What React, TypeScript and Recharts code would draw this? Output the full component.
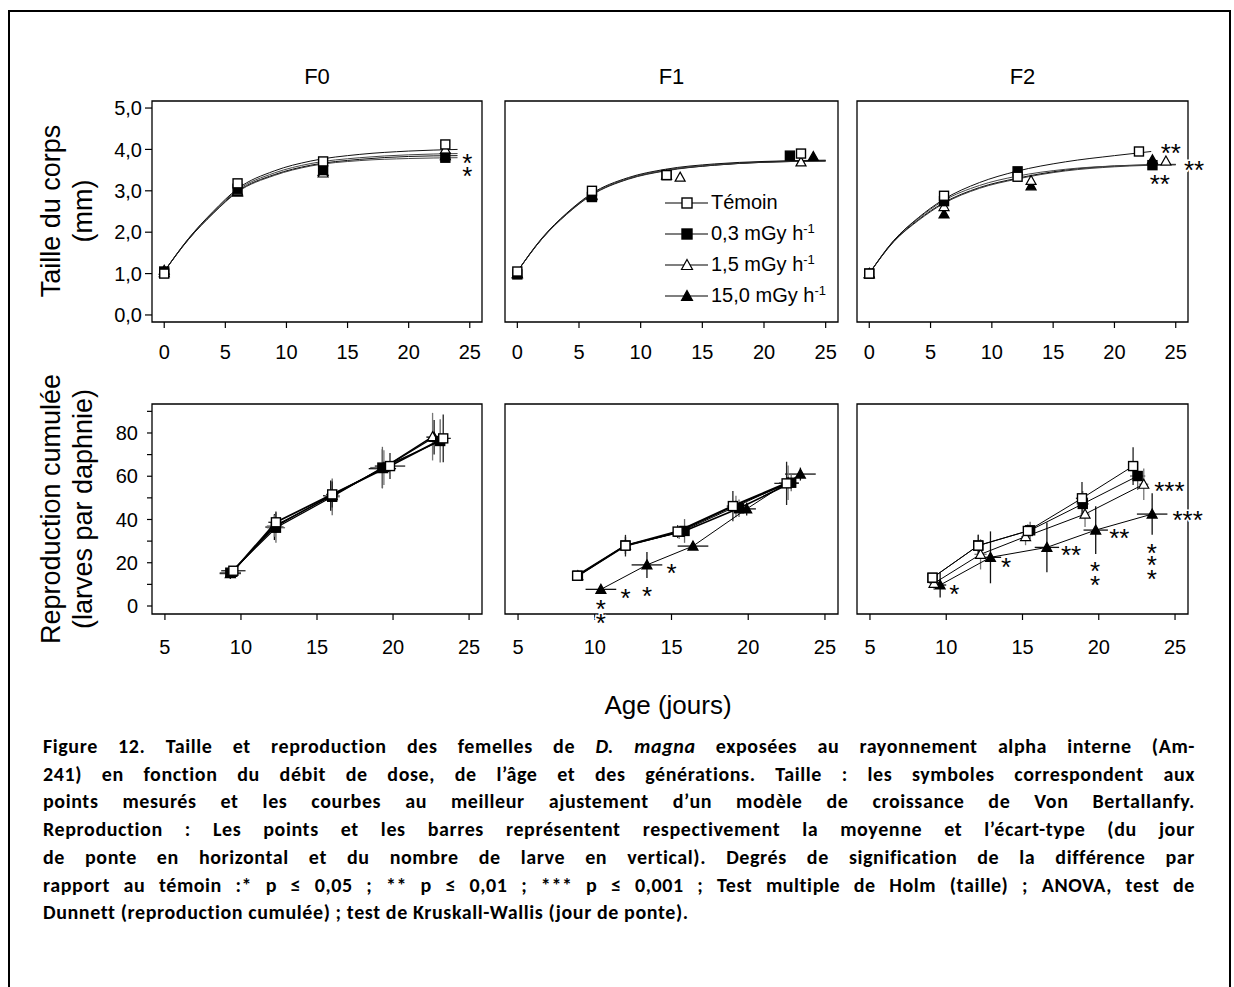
import React from "react";
import {
  ComposedChart,
  Line,
  Scatter,
  XAxis,
  YAxis,
  ErrorBar,
  ReferenceArea,
  ReferenceDot,
} from "recharts";

const FONT = '"Liberation Sans", Arial, Helvetica, sans-serif';

const generations = ["F0", "F1", "F2"];
const seriesLabels = ["Témoin", "0,3 mGy h", "1,5 mGy h", "15,0 mGy h"];
const seriesExp = ["", "-1", "-1", "-1"];

const tailleTicksX = [0, 5, 10, 15, 20, 25];
const tailleTicksY = [0, 1, 2, 3, 4, 5];
const reproTicksX = [5, 10, 15, 20, 25];
const reproTicksY = [0, 10, 20, 30, 40, 50, 60, 70, 80, 90];

// Taille du corps : points mesurés (ordre : Témoin, 0,3, 1,5, 15,0)
const tailleAgeF0 = [[0, 6, 13, 23], [0, 6, 13, 23], [0, 6, 13, 23], [0, 6, 13, 23]];
const tailleF0 = [[1.0, 3.18, 3.71, 4.12], [1.05, 3.05, 3.5, 3.8], [1.08, 3.0, 3.43, 4.0], [1.02, 2.97, 3.47, 3.85]];
const tailleAgeF1 = [[0, 6.05, 12.1, 23], [0, 6.05, 12.1, 22.1], [0, 6.05, 13.2, 23], [0, 6.05, 12.1, 24]];
const tailleF1 = [[1.05, 3.0, 3.38, 3.9], [0.98, 2.85, 3.38, 3.85], [1.0, 2.9, 3.33, 3.7], [1.0, 2.88, 3.38, 3.83]];
const tailleAgeF2 = [[0, 6.1, 12.1, 22.0], [0, 6.1, 12.1, 23.1], [0, 6.1, 13.2, 24.2], [0, 6.1, 13.2, 23.1]];
const tailleF2 = [[1.0, 2.88, 3.34, 3.95], [1.0, 2.75, 3.47, 3.62], [1.0, 2.62, 3.25, 3.72], [1.0, 2.44, 3.12, 3.75]];

// Taille du corps : courbes ajustées (Von Bertalanffy)
const courbeAgeF0 = [
  [0, 2, 4, 6, 9, 12, 16, 20, 24],
  [0, 2, 4, 6, 9, 12, 16, 20, 24],
  [0, 2, 4, 6, 9, 12, 16, 20, 24],
  [0, 2, 4, 6, 9, 12, 16, 20, 24],
];
const courbeF0 = [
  [1.05, 1.85, 2.5, 3.05, 3.48, 3.72, 3.88, 3.96, 4.0],
  [1.05, 1.85, 2.48, 3.02, 3.43, 3.66, 3.8, 3.87, 3.9],
  [1.05, 1.83, 2.46, 2.99, 3.39, 3.62, 3.76, 3.83, 3.85],
  [1.05, 1.83, 2.45, 2.97, 3.37, 3.6, 3.73, 3.78, 3.8],
];
const courbeAgeF1 = [
  [0, 2, 4, 6, 9, 12, 16, 20, 25],
  [0, 2, 4, 6, 9, 12, 16, 20, 25],
  [0, 2, 4, 6, 9, 12, 16, 20, 25],
  [0, 2, 4, 6, 9, 12, 16, 20, 25],
];
const courbeF1 = [
  [1.05, 1.86, 2.46, 2.93, 3.32, 3.52, 3.65, 3.71, 3.74],
  [1.05, 1.85, 2.45, 2.91, 3.3, 3.5, 3.63, 3.7, 3.73],
  [1.05, 1.84, 2.44, 2.9, 3.29, 3.49, 3.62, 3.69, 3.72],
  [1.05, 1.84, 2.43, 2.89, 3.28, 3.48, 3.62, 3.69, 3.72],
];
const courbeAgeF2 = [
  [0, 2, 4, 6, 9, 12, 16, 20, 23],
  [0, 2, 4, 6, 9, 12, 16, 20, 25],
  [0, 2, 4, 6, 9, 12, 16, 20, 25],
  [0, 2, 4, 6, 9, 12, 16, 20, 25],
];
const courbeF2 = [
  [1.0, 1.8, 2.35, 2.78, 3.2, 3.47, 3.7, 3.85, 3.95],
  [1.0, 1.8, 2.33, 2.75, 3.13, 3.35, 3.52, 3.6, 3.63],
  [1.0, 1.78, 2.3, 2.7, 3.08, 3.3, 3.5, 3.6, 3.64],
  [1.0, 1.77, 2.28, 2.68, 3.06, 3.28, 3.48, 3.58, 3.63],
];

// Reproduction cumulée : moyenne (jour de ponte, larves) et écart-types
const reproAgeF0 = [[9.5, 12.3, 16.0, 19.8, 23.3], [9.3, 12.3, 16.0, 19.3, 23.1], [9.4, 12.2, 16.0, 19.4, 22.6], [9.3, 12.2, 15.9, 19.3, 22.7]];
const reproF0 = [[16.3, 38.7, 51.6, 64.7, 77.5], [15.4, 36.2, 50.5, 64.0, 76.3], [15.5, 37.0, 51.0, 64.0, 78.3], [15.0, 36.5, 51.0, 63.5, 78.0]];
const reproSdAgeF0 = [[0.8, 0.5, 0.4, 1.0, 0.5], [0.7, 0.6, 0.5, 0.8, 0.5], [0.6, 0.5, 0.5, 0.7, 0.4], [0.7, 0.6, 0.5, 0.9, 0.5]];
const reproSdF0 = [[2, 5, 6, 6, 11], [2, 7, 8.5, 9.6, 10], [2, 5, 7, 8, 11], [2.5, 6, 7, 9, 8]];

const reproAgeF1 = [[8.85, 12.0, 15.4, 19.0, 22.5], [8.9, 12.0, 15.85, 19.4, 22.8], [8.9, 12.0, 15.5, 19.2, 22.6], [10.4, 13.4, 16.4, 19.9, 23.4]];
const reproF1 = [[14.0, 27.9, 34.4, 46.2, 56.7], [14.0, 28.0, 34.7, 45.2, 57.0], [14.0, 28.0, 34.0, 46.0, 57.0], [7.7, 19.0, 27.7, 44.9, 61.0]];
const reproSdAgeF1 = [[0.1, 0.2, 0.3, 0.4, 0.8], [0.1, 0.2, 0.3, 0.5, 0.5], [0.1, 0.2, 0.3, 0.4, 0.6], [1.0, 1.0, 1.0, 0.6, 1.0]];
const reproSdF1 = [[2, 5, 3, 7, 10], [2, 4, 5.5, 4, 4], [2, 4, 3, 5, 8], [1.5, 6, 1.5, 3, 3]];

const reproAgeF2 = [[9.1, 12.1, 15.35, 18.9, 22.25], [9.1, 12.1, 15.5, 18.95, 22.55], [9.2, 12.25, 15.2, 19.1, 22.95], [9.6, 12.9, 16.6, 19.8, 23.5]];
const reproF2 = [[13.1, 27.9, 34.7, 49.8, 64.7], [13.0, 28.0, 35.0, 47.2, 60.1], [10.5, 23.9, 32.1, 42.5, 56.3], [9.7, 22.5, 27.1, 35.1, 42.5]];
const reproSdAgeF2 = [[0.3, 0.3, 0.3, 0.4, 0.3], [0.2, 0.3, 0.3, 0.4, 0.5], [0.3, 0.4, 0.3, 0.3, 0.3], [0.4, 0.7, 0.8, 0.8, 1.0]];
const reproSdF2 = [[2, 5, 3, 7.5, 8.7], [2, 5, 4, 6, 6.5], [3, 7, 4, 6, 7.3], [5.8, 12, 11.5, 11, 9.6]];

// Degrés de signification (position en unités des axes)
const etoilesTailleF0 = [{ x: 24.8, y: 3.82, t: "*" }, { x: 24.8, y: 3.51, t: "*" }];
const etoilesTailleF1: { x: number; y: number; t: string }[] = [];
const etoilesTailleF2 = [{ x: 24.6, y: 4.06, t: "**" }, { x: 26.5, y: 3.65, t: "**" }, { x: 23.7, y: 3.31, t: "**" }];
const etoilesReproF0: { x: number; y: number; t: string }[] = [];
const etoilesReproF1 = [
  { x: 12.0, y: 6.6, t: "*" },
  { x: 13.4, y: 7.4, t: "*" },
  { x: 15.0, y: 18.2, t: "*" },
  { x: 10.4, y: 1.2, t: "*" },
  { x: 10.4, y: -4.9, t: "*" },
];
const etoilesReproF2 = [
  { x: 10.53, y: 8.2, t: "*" },
  { x: 13.92, y: 20.9, t: "*" },
  { x: 18.18, y: 26.4, t: "**" },
  { x: 21.35, y: 34.4, t: "**" },
  { x: 19.75, y: 19.0, t: "*" },
  { x: 19.75, y: 12.3, t: "*" },
  { x: 24.63, y: 56.0, t: "***" },
  { x: 25.83, y: 42.5, t: "***" },
  { x: 23.47, y: 27.4, t: "*" },
  { x: 23.47, y: 21.6, t: "*" },
  { x: 23.47, y: 15.1, t: "*" },
];

const captionLines = [
  "Figure 12. Taille et reproduction des femelles de |D. magna| exposées au rayonnement alpha interne (Am-",
  "241) en fonction du débit de dose, de l’âge et des générations. Taille : les symboles correspondent aux",
  "points mesurés et les courbes au meilleur ajustement d’un modèle de croissance de Von Bertallanfy.",
  "Reproduction : Les points et les barres représentent respectivement la moyenne et l’écart-type (du jour",
  "de ponte en horizontal et du nombre de larve en vertical). Degrés de signification de la différence par",
  "rapport au témoin :* p ≤ 0,05 ; ** p ≤ 0,01 ; *** p ≤ 0,001 ; Test multiple de Holm (taille) ; ANOVA, test de",
  "Dunnett (reproduction cumulée) ; test de Kruskall-Wallis (jour de ponte).",
];

type Pt = { x: number; y: number; ex: number; ey: number };
type Star = { x: number; y: number; t: string };

function pts(xs: number[], ys: number[], exs?: number[], eys?: number[]): Pt[] {
  return xs.map((x, i) => ({ x, y: ys[i], ex: exs ? exs[i] : 0, ey: eys ? eys[i] : 0 }));
}

function Marker({ cx, cy, kind, size = 9 }: { cx?: number; cy?: number; kind: number; size?: number }) {
  if (cx == null || cy == null || isNaN(cx) || isNaN(cy)) return null;
  const h = size / 2;
  if (kind < 2) {
    return (
      <rect x={cx - h} y={cy - h} width={size} height={size} fill={kind === 0 ? "#fff" : "#000"} stroke="#000" strokeWidth={1.4} />
    );
  }
  const p = `${cx},${cy - h - 0.5} ${cx + h + 0.5},${cy + h - 0.5} ${cx - h - 0.5},${cy + h - 0.5}`;
  return <polygon points={p} fill={kind === 2 ? "#fff" : "#000"} stroke="#000" strokeWidth={1.2} strokeLinejoin="miter" />;
}

function StarText({ cx, cy, t }: { cx?: number; cy?: number; t: string }) {
  if (cx == null || cy == null) return null;
  const fs = 26;
  return (
    <text
      x={cx}
      y={cy + fs * 0.58}
      textAnchor="middle"
      fontSize={fs}
      fontFamily={FONT}
      fill="#000"
      stroke="#fff"
      strokeWidth={3}
      paintOrder="stroke"
    >
      {t}
    </text>
  );
}

const barColors = ["#222", "#666", "#777", "#111"];
const order = [3, 2, 1, 0];

type PanelProps = {
  left: number;
  top: number;
  width: number;
  height: number;
  xDomain: [number, number];
  yDomain: [number, number];
  xTicks: number[];
  yTicks: number[];
  yFormat: (v: number) => string;
  showYLabels: boolean;
  xTickMargin: number;
  yTickSize: number;
  yTickMargin: number;
  curves?: Pt[][];
  markers: Pt[][];
  errorBars: boolean;
  lineWidths?: number[];
  stars: Star[];
};

function Panel(p: PanelProps) {
  const [x0, x1] = p.xDomain;
  const [y0, y1] = p.yDomain;
  const tickStyle = { fill: "#000", fontSize: 20, fontFamily: FONT };
  return (
    <div style={{ position: "absolute", left: p.left, top: p.top }}>
      <ComposedChart width={p.width} height={p.height} margin={{ top: 11, right: 30, bottom: 0, left: 0 }}>
        <XAxis
          dataKey="x"
          type="number"
          domain={p.xDomain}
          ticks={p.xTicks}
          interval={0}
          allowDataOverflow
          height={52}
          axisLine={false}
          tickSize={6}
          tickMargin={p.xTickMargin}
          tickLine={{ stroke: "#000", strokeWidth: 1.2 }}
          tick={tickStyle}
        />
        <YAxis
          dataKey="y"
          type="number"
          domain={p.yDomain}
          ticks={p.yTicks}
          interval={0}
          allowDataOverflow
          width={60}
          axisLine={false}
          tickSize={p.yTickSize}
          tickMargin={p.yTickMargin}
          tickLine={{ stroke: "#000", strokeWidth: 1.2 }}
          tick={p.showYLabels ? tickStyle : false}
          tickFormatter={p.yFormat}
        />
        <ReferenceArea x1={x0} x2={x1} y1={y0} y2={y1} fill="none" stroke="#000" strokeWidth={1.3} ifOverflow="visible" />
        {p.curves &&
          order.map((i) => (
            <Line
              key={"c" + i}
              data={p.curves![i]}
              dataKey="y"
              type="monotone"
              dot={false}
              activeDot={false}
              stroke={i % 2 === 0 ? "#111" : "#444"}
              strokeWidth={1}
              isAnimationActive={false}
            />
          ))}
        {order.map((i) => (
          <Scatter
            key={"s" + i}
            data={p.markers[i]}
            isAnimationActive={false}
            line={p.lineWidths ? { stroke: "#000", strokeWidth: p.lineWidths[i] } : false}
            shape={(sp: any) => <Marker cx={sp.cx} cy={sp.cy} kind={i} />}
          >
            {p.errorBars && <ErrorBar dataKey="ey" direction="y" width={0} stroke={barColors[i]} strokeWidth={1.3} />}
            {p.errorBars && <ErrorBar dataKey="ex" direction="x" width={0} stroke={barColors[i]} strokeWidth={1.3} />}
          </Scatter>
        ))}
        {p.stars.map((s, k) => (
          <ReferenceDot
            key={"e" + k}
            x={s.x}
            y={s.y}
            r={0}
            ifOverflow="visible"
            shape={(dp: any) => <StarText cx={dp.cx} cy={dp.cy} t={s.t} />}
          />
        ))}
      </ComposedChart>
    </div>
  );
}

const fmtTaille = (v: number) => v.toFixed(1).replace(".", ",");
const fmtRepro = (v: number) => (v % 20 === 0 ? String(v) : "");

function Legend() {
  return (
    <div style={{ position: "absolute", left: 664, top: 187, fontFamily: FONT, fontSize: 20, color: "#000" }}>
      {seriesLabels.map((lab, i) => (
        <div key={lab} style={{ height: 31, display: "flex", alignItems: "center", whiteSpace: "nowrap" }}>
          <svg width={46} height={20} style={{ display: "block" }}>
            <line x1={1} y1={10} x2={44} y2={10} stroke="#000" strokeWidth={1.2} />
            <Marker cx={23} cy={10} kind={i} size={10} />
          </svg>
          <span style={{ marginLeft: 1 }}>
            {lab}
            {seriesExp[i] && <sup style={{ fontSize: 13, verticalAlign: "7px", lineHeight: 0 }}>{seriesExp[i]}</sup>}
          </span>
        </div>
      ))}
    </div>
  );
}

function CaptionLine({ text, last }: { text: string; last: boolean }) {
  const parts = text.split("|");
  return (
    <div style={{ textAlign: last ? "left" : "justify", textAlignLast: last ? "left" : "justify", whiteSpace: "nowrap" }}>
      {parts.map((s, k) => (k % 2 === 1 ? <i key={k}>{s}</i> : <span key={k}>{s}</span>))}
    </div>
  );
}

export default function App() {
  const tops = [90, 393];
  const lefts = [92, 445, 797];
  const widths = [420, 423, 421];
  const tailleAges = [tailleAgeF0, tailleAgeF1, tailleAgeF2];
  const tailles = [tailleF0, tailleF1, tailleF2];
  const courbeAges = [courbeAgeF0, courbeAgeF1, courbeAgeF2];
  const courbes = [courbeF0, courbeF1, courbeF2];
  const reproAges = [reproAgeF0, reproAgeF1, reproAgeF2];
  const repros = [reproF0, reproF1, reproF2];
  const reproSdAges = [reproSdAgeF0, reproSdAgeF1, reproSdAgeF2];
  const reproSds = [reproSdF0, reproSdF1, reproSdF2];
  const etoilesTaille = [etoilesTailleF0, etoilesTailleF1, etoilesTailleF2];
  const etoilesRepro = [etoilesReproF0, etoilesReproF1, etoilesReproF2];
  const lineWidths = [
    [1.8, 1.3, 1.3, 1.3],
    [2.2, 1.6, 1.0, 1.0],
    [1.0, 1.0, 1.0, 1.0],
  ];

  return (
    <div
      style={{
        position: "absolute",
        left: 0,
        top: 0,
        width: 1234,
        height: 987,
        overflow: "hidden",
        background: "#fff",
        fontFamily: FONT,
        color: "#000",
      }}
    >
      <div
        style={{
          position: "absolute",
          left: 8,
          top: 10,
          width: 1219,
          height: 1000,
          borderLeft: "2px solid #000",
          borderTop: "2px solid #000",
          borderRight: "2px solid #000",
        }}
      />

      {generations.map((g, c) => (
        <div
          key={g}
          style={{
            position: "absolute",
            left: lefts[c] + 60 + (widths[c] - 90) / 2,
            top: 77,
            transform: "translate(-50%, -50%)",
            fontSize: 22,
          }}
        >
          {g}
        </div>
      ))}

      {generations.map((g, c) => (
        <Panel
          key={"t" + g}
          left={lefts[c]}
          top={tops[0]}
          width={widths[c]}
          height={284}
          xDomain={[-1, 26]}
          yDomain={[-0.17, 5.17]}
          xTicks={tailleTicksX}
          yTicks={tailleTicksY}
          yFormat={fmtTaille}
          showYLabels={c === 0}
          xTickMargin={17}
          yTickSize={7}
          yTickMargin={3}
          curves={courbeAges[c].map((a, i) => pts(a, courbes[c][i]))}
          markers={tailleAges[c].map((a, i) => pts(a, tailles[c][i]))}
          errorBars={false}
          stars={etoilesTaille[c]}
        />
      ))}

      {generations.map((g, c) => (
        <Panel
          key={"b" + g}
          left={lefts[c]}
          top={tops[1]}
          width={widths[c]}
          height={273}
          xDomain={[4.15, 25.85]}
          yDomain={[-3.7, 93.4]}
          xTicks={reproTicksX}
          yTicks={reproTicksY}
          yFormat={fmtRepro}
          showYLabels={c === 0}
          xTickMargin={20}
          yTickSize={5}
          yTickMargin={9}
          markers={reproAges[c].map((a, i) => pts(a, repros[c][i], reproSdAges[c][i], reproSds[c][i]))}
          errorBars={true}
          lineWidths={lineWidths[c]}
          stars={etoilesRepro[c]}
        />
      ))}

      <Legend />

      <div
        style={{
          position: "absolute",
          left: 67,
          top: 211,
          transform: "translate(-50%, -50%) rotate(-90deg)",
          textAlign: "center",
          fontSize: 27,
          lineHeight: "32px",
          whiteSpace: "nowrap",
        }}
      >
        Taille du corps
        <br />
        (mm)
      </div>
      <div
        style={{
          position: "absolute",
          left: 67,
          top: 509,
          transform: "translate(-50%, -50%) rotate(-90deg)",
          textAlign: "center",
          fontSize: 27,
          lineHeight: "32px",
          whiteSpace: "nowrap",
        }}
      >
        Reproduction cumulée
        <br />
        (larves par daphnie)
      </div>
      <div
        style={{
          position: "absolute",
          left: 668,
          top: 705,
          transform: "translate(-50%, -50%)",
          fontSize: 26,
          whiteSpace: "nowrap",
        }}
      >
        Age (jours)
      </div>

      <div
        style={{
          position: "absolute",
          left: 43,
          top: 733,
          width: 1152,
          fontFamily: '"Carlito", "Calibri", "Lato", sans-serif',
          fontWeight: 700,
          fontSize: 20,
          letterSpacing: 0.6,
          lineHeight: "27.7px",
        }}
      >
        {captionLines.map((l, i) => (
          <CaptionLine key={i} text={l} last={i === captionLines.length - 1} />
        ))}
      </div>
    </div>
  );
}
